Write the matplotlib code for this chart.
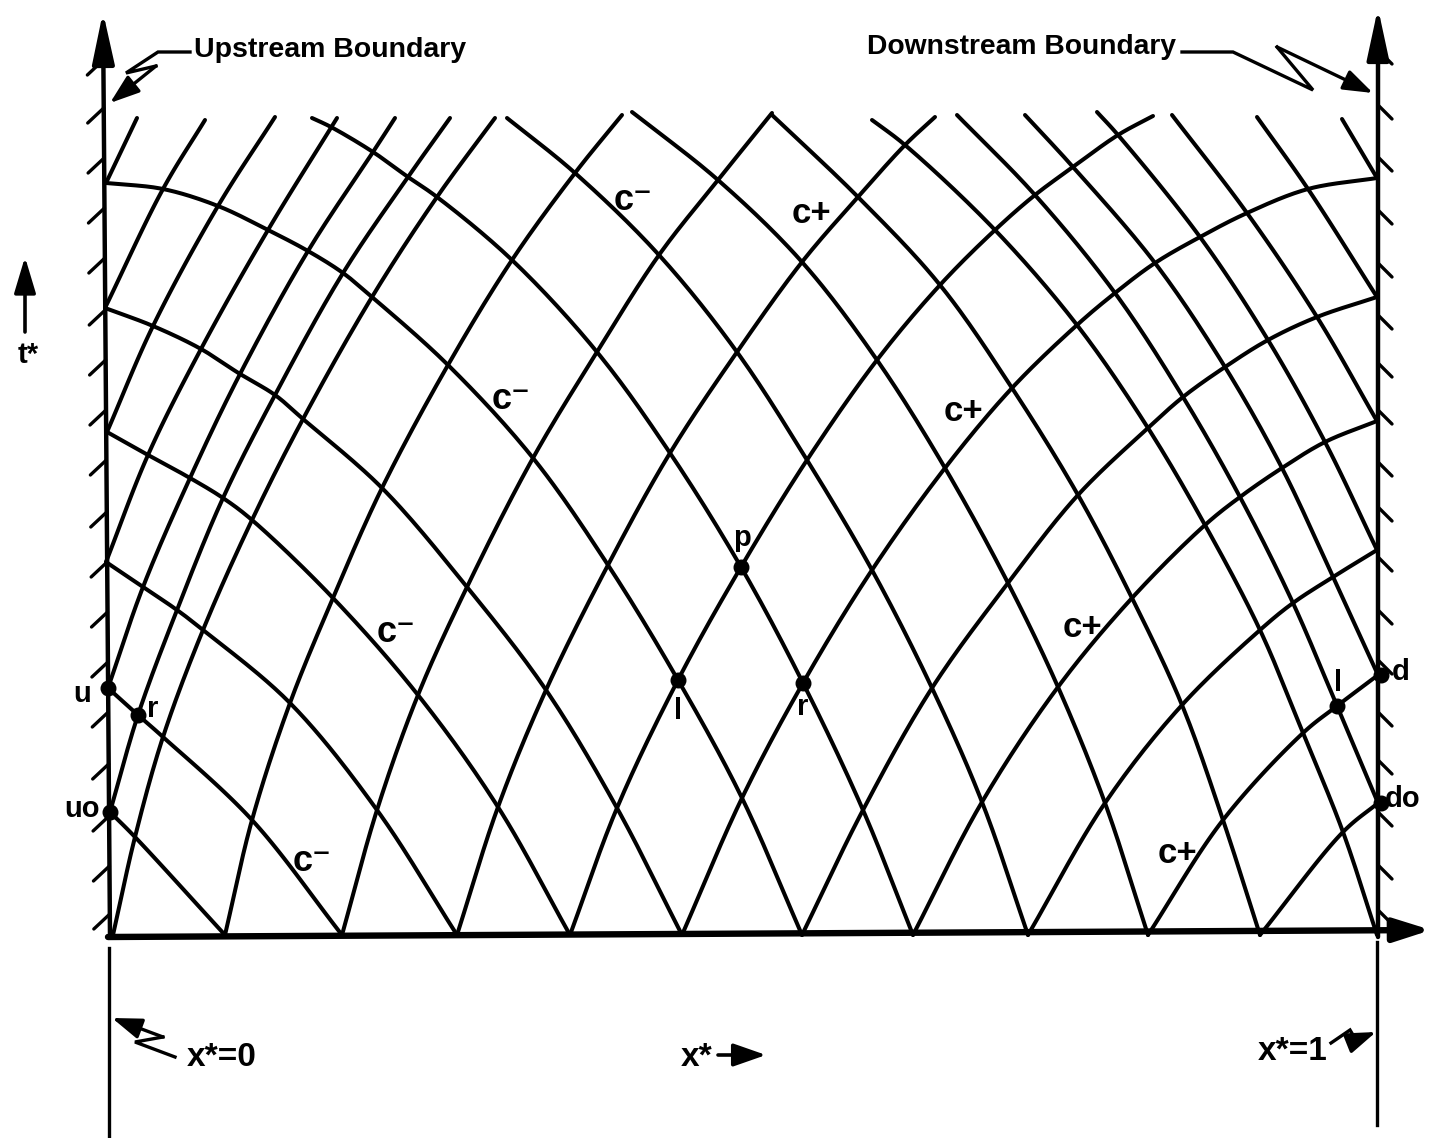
import numpy as np
import matplotlib
matplotlib.use("Agg")
import matplotlib.pyplot as plt

# all values, in picture pixels (y grows downward)
bottom_y = 935
bottom_x = [113, 225, 342, 457, 570, 682, 802, 913, 1028, 1148, 1260, 1377]
left_bnd = [(110, 937), (103, 12)]
right_bnd = [(1378, 937), (1378, 8)]

# c+ characteristics, keyed by where they start (L = upstream boundary, B = x axis)
c_plus = {
    "L6": [(106, 183), (137, 118)],
    "L5": [(105, 308), (163, 189), (205, 120)],
    "L4": [(107, 432), (153, 326), (218, 206), (275, 117)],
    "L3": [(106, 562), (148, 455), (201, 349), (268, 230), (337, 118)],
    "L2": [(108, 688), (143, 587), (190, 478), (240, 374), (308, 251), (373, 152), (395, 118)],
    "L1": [(110, 812), (138, 715), (177, 610), (223, 498), (275, 395), (343, 273), (408, 177), (450, 118)],
    "B0": [(113, 935), (135, 837), (163, 737), (203, 630), (252, 520), (303, 419), (372, 297), (437, 197), (495, 118)],
    "B1": [(225, 935), (252, 820), (290, 703), (333, 598), (382, 488), (448, 365), (512, 260), (575, 173), (622, 115)],
    "B2": [(342, 935), (377, 810), (418, 695), (467, 587), (533, 458), (597, 352), (659, 255), (718, 180), (772, 113)],
    "B3": [(457, 935), (498, 807), (546, 690), (608, 565), (670, 453), (737, 352), (802, 262), (858, 197), (905, 145), (935, 117)],
    "B4": [(570, 935), (617, 808), (678, 680), (741, 567), (807, 460), (877, 360), (940, 285), (995, 230), (1035, 195),
           (1073, 167), (1118, 135), (1153, 116)],
    "B5": [(682, 935), (742, 798), (803, 683), (872, 570), (945, 468), (1012, 388), (1077, 325), (1115, 293), (1155, 263),
           (1200, 237), (1247, 213), (1308, 189), (1377, 178)],
    "B6": [(802, 935), (863, 810), (932, 688), (1008, 583), (1078, 495), (1148, 428), (1183, 397), (1225, 367), (1268, 340),
           (1317, 317), (1377, 297)],
    "B7": [(913, 935), (982, 802), (1058, 687), (1132, 598), (1205, 525), (1240, 497), (1282, 468), (1325, 442), (1377, 421)],
    "B8": [(1028, 935), (1105, 803), (1182, 705), (1260, 630), (1293, 603), (1333, 577), (1377, 550)],
    "B9": [(1148, 935), (1223, 820), (1303, 733), (1337, 706), (1378, 675)],
    "B10": [(1260, 935), (1343, 832), (1378, 803)],
}

# c- characteristics, keyed by where they start (B = x axis, R = downstream boundary)
c_minus = {
    "B1": [(225, 935), (135, 837), (110, 812)],
    "B2": [(342, 935), (252, 820), (163, 737), (138, 715), (108, 688)],
    "B3": [(457, 935), (377, 810), (290, 703), (203, 630), (177, 610), (143, 587), (106, 562)],
    "B4": [(570, 935), (498, 807), (418, 695), (333, 598), (252, 520), (223, 498), (190, 478), (148, 455), (107, 432)],
    "B5": [(682, 935), (617, 808), (546, 690), (467, 587), (382, 488), (303, 419), (275, 395), (240, 374), (201, 349),
           (153, 326), (105, 308)],
    "B6": [(802, 935), (742, 798), (678, 680), (608, 565), (533, 458), (448, 365), (372, 297), (343, 273), (308, 251),
           (268, 230), (218, 206), (163, 189), (106, 183)],
    "B7": [(913, 935), (863, 810), (803, 683), (741, 567), (670, 453), (597, 352), (512, 260), (437, 197), (408, 177),
           (373, 152), (331, 127), (312, 118)],
    "B8": [(1028, 935), (982, 802), (932, 688), (872, 570), (807, 460), (737, 352), (659, 255), (575, 173), (507, 118)],
    "B9": [(1148, 935), (1105, 803), (1058, 687), (1008, 583), (945, 468), (877, 360), (802, 262), (718, 180), (632, 112)],
    "B10": [(1260, 935), (1223, 820), (1182, 705), (1132, 598), (1078, 495), (1012, 388), (940, 285), (858, 197), (772, 115)],
    "B11": [(1377, 935), (1343, 832), (1303, 733), (1260, 630), (1205, 525), (1148, 428), (1077, 325), (995, 230),
            (905, 145), (872, 120)],
    "R1": [(1378, 803), (1337, 706), (1293, 603), (1240, 497), (1183, 397), (1115, 293), (1035, 195), (957, 115)],
    "R2": [(1378, 675), (1333, 577), (1282, 468), (1225, 367), (1155, 263), (1073, 167), (1025, 115)],
    "R3": [(1377, 550), (1325, 442), (1268, 340), (1200, 237), (1118, 135), (1097, 112)],
    "R4": [(1377, 421), (1317, 317), (1247, 213), (1172, 115)],
    "R5": [(1377, 297), (1308, 189), (1257, 117)],
    "R6": [(1377, 178), (1342, 119)],
}

left_ticks = [60, 108, 158, 208, 258, 310, 360, 410, 460, 512, 562, 612, 662, 712, 764, 816, 866, 914]
right_ticks = [50, 105, 157, 210, 263, 315, 363, 410, 462, 507, 557, 610, 660, 712, 760, 812, 865, 910]

dots_x = [741, 678, 803, 108, 138, 110, 1381, 1381, 1337]
dots_y = [567, 680, 683, 688, 715, 812, 675, 803, 706]
point_names = ["p", "l", "r", "u", "r", "uo", "d", "do", "l"]
point_lx = [742, 678, 803, 82, 153, 82, 1401, 1403, 1338]
point_ly = [538, 711, 707, 694, 709, 809, 672, 799, 683]

cm_label_xy = [(633, 200), (511, 399), (396, 632), (312, 861)]
cp_label_xy = [(811, 213), (963, 411), (1082, 627), (1177, 853)]

up_leader = [(190, 52), (158, 52), (126, 73), (156, 66), (110, 103)]
down_leader = [(1182, 52), (1233, 52), (1313, 90), (1277, 47), (1373, 93)]
x0_leader = [(175, 1057), (135, 1042), (163, 1037), (112, 1018)]
x1_leader = [(1331, 1043), (1350, 1030), (1356, 1040), (1376, 1032)]


def catmull(pts, n=24):
    # centripetal Catmull-Rom through the read points
    P = np.asarray(pts, float)
    if len(P) == 2:
        return P
    P = np.vstack([2 * P[0] - P[1], P, 2 * P[-1] - P[-2]])
    out = []
    for i in range(1, len(P) - 2):
        p0, p1, p2, p3 = P[i - 1], P[i], P[i + 1], P[i + 2]
        t0 = 0.0
        t1 = t0 + np.linalg.norm(p1 - p0) ** 0.5
        t2 = t1 + np.linalg.norm(p2 - p1) ** 0.5
        t3 = t2 + np.linalg.norm(p3 - p2) ** 0.5
        t = np.linspace(t1, t2, n)[:, None]
        a1 = (t1 - t) / (t1 - t0) * p0 + (t - t0) / (t1 - t0) * p1
        a2 = (t2 - t) / (t2 - t1) * p1 + (t - t1) / (t2 - t1) * p2
        a3 = (t3 - t) / (t3 - t2) * p2 + (t - t2) / (t3 - t2) * p3
        b1 = (t2 - t) / (t2 - t0) * a1 + (t - t0) / (t2 - t0) * a2
        b2 = (t3 - t) / (t3 - t1) * a2 + (t - t1) / (t3 - t1) * a3
        out.append((t2 - t) / (t2 - t1) * b1 + (t - t1) / (t2 - t1) * b2)
    return np.vstack(out)


def arrow(ax, tail, tip, lw, ms, hl=1.2, hw=0.3):
    ax.annotate("", xy=tip, xytext=tail,
                arrowprops=dict(arrowstyle="-|>,head_length=%s,head_width=%s" % (hl, hw),
                                lw=lw, color="black", shrinkA=0, shrinkB=0, mutation_scale=ms))


plt.rcParams['font.family'] = ['Liberation Sans', 'DejaVu Sans']
plt.rcParams['font.weight'] = 'bold'

fig = plt.figure(figsize=(14.31, 11.38), dpi=100)
ax = fig.add_axes([0, 0, 1, 1])
ax.set_xlim(0, 1431)
ax.set_ylim(1138, 0)
ax.axis("off")

for pts in list(c_plus.values()) + list(c_minus.values()):
    xy = catmull(pts)
    ax.plot(xy[:, 0], xy[:, 1], color="black", lw=2.9, solid_capstyle="round")

# boundaries and x axis
arrow(ax, left_bnd[0], left_bnd[1], 3.2, 24, hl=1.3, hw=0.28)
arrow(ax, right_bnd[0], right_bnd[1], 3.2, 24, hl=1.3, hw=0.28)
arrow(ax, (108, bottom_y + 2), (1431, bottom_y - 5), 4.6, 20, hl=1.1, hw=0.35)

# wall hatching
for ty in left_ticks:
    xb = left_bnd[0][0] + (left_bnd[1][0] - left_bnd[0][0]) * (left_bnd[0][1] - ty) / (left_bnd[0][1] - left_bnd[1][1])
    ax.plot([xb, xb - 16], [ty, ty + 15], color="black", lw=2.4, solid_capstyle="round")
for ty in right_ticks:
    ax.plot([1378, 1392], [ty, ty + 14], color="black", lw=2.4, solid_capstyle="round")

# x* extent markers below the axis
ax.plot([109, 109], [948, 1138], color="black", lw=2.4)
ax.plot([1377, 1377], [942, 1125], color="black", lw=2.4)

# nodes
ax.scatter(dots_x, dots_y, s=110, color="black", zorder=5)
for name, lx, ly in zip(point_names, point_lx, point_ly):
    ax.text(lx, ly, name, fontsize=21, ha="center", va="center")

for lx, ly in cm_label_xy:
    ax.text(lx, ly, "c\u207b", fontsize=26, ha="center", va="center")
for lx, ly in cp_label_xy:
    ax.text(lx, ly, "c+", fontsize=25, ha="center", va="center")

# titles and leaders
ax.text(194, 50, "Upstream Boundary", fontsize=20.5, ha="left", va="center")
ax.text(867, 47, "Downstream Boundary", fontsize=20.3, ha="left", va="center")
for path in (up_leader, down_leader, x0_leader, x1_leader):
    xs = [q[0] for q in path]
    ys = [q[1] for q in path]
    ax.plot(xs[:-1], ys[:-1], color="black", lw=2.4, solid_joinstyle="miter")
    arrow(ax, path[-2], path[-1], 2.4, 18, hl=1.0, hw=0.35)

# t* and x* annotations
arrow(ax, (25, 332), (25, 257), 2.6, 22, hl=1.0, hw=0.3)
ax.text(28, 355, "t*", fontsize=21, ha="center", va="center")
ax.text(222, 1057, "x*=0", fontsize=24, ha="center", va="center")
ax.text(1293, 1052, "x*=1", fontsize=24, ha="center", va="center")
ax.text(697, 1057, "x*", fontsize=24, ha="center", va="center")
arrow(ax, (718, 1055), (766, 1055), 2.6, 20, hl=1.0, hw=0.35)

fig.savefig("out.png", dpi=100, facecolor="white")
